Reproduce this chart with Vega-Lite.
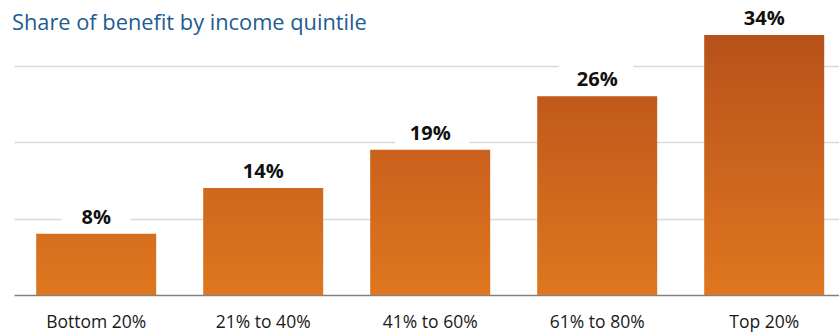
{
  "$schema": "https://vega.github.io/schema/vega-lite/v6.json",
  "autosize": {"type": "none"},
  "width": 825,
  "height": 260,
  "padding": {"left": 14, "top": 35, "right": 0, "bottom": 38},
  "background": "white",
  "title": {
    "text": "Share of benefit by income quintile",
    "anchor": "start",
    "frame": "group",
    "font": "Open Sans",
    "fontSize": 21.8,
    "fontWeight": "normal",
    "color": "#1D5C92",
    "baseline": "alphabetic",
    "offset": -43,
    "dx": -2
  },
  "data": {
    "values": [
      {"quintile": "Bottom 20%", "share": 0.08},
      {"quintile": "21% to 40%", "share": 0.14},
      {"quintile": "41% to 60%", "share": 0.19},
      {"quintile": "61% to 80%", "share": 0.26},
      {"quintile": "Top 20%", "share": 0.34}
    ]
  },
  "encoding": {
    "x": {
      "field": "quintile",
      "type": "nominal",
      "sort": null,
      "scale": {"paddingInner": 0.2814, "paddingOuter": 0.1107, "align": 0.6},
      "axis": {
        "title": null,
        "labelAngle": 0,
        "labelFont": "Open Sans",
        "labelFontSize": 17.5,
        "labelColor": "#1a1a1a",
        "labelBaseline": "alphabetic",
        "labelPadding": 32,
        "ticks": false,
        "tickSize": 0,
        "domainColor": "#808080",
        "domainWidth": 1.5,
        "grid": false
      }
    },
    "y": {
      "field": "share",
      "type": "quantitative",
      "scale": {"domain": [0, 0.34], "nice": false, "zero": true},
      "axis": {
        "title": null,
        "labels": false,
        "ticks": false,
        "domain": false,
        "values": [0.1, 0.2, 0.3],
        "grid": true,
        "gridColor": "#D9D9D9",
        "gridWidth": 1.5
      }
    }
  },
  "layer": [
    {
      "transform": [{"filter": "datum.share < 0.3"}],
      "mark": {
        "type": "text",
        "font": "Open Sans",
        "fontSize": 20,
        "fontWeight": "bold",
        "baseline": "alphabetic",
        "dy": -10,
        "fill": "white",
        "stroke": "white",
        "strokeWidth": 40,
        "strokeJoin": "round"
      },
      "encoding": {"text": {"field": "share", "type": "quantitative", "format": ".0%"}}
    },
    {
      "mark": {"type": "bar"},
      "encoding": {
        "fill": {
          "condition": [
            {"test": "datum.quintile === 'Bottom 20%'", "value": {"gradient": "linear", "x1": 0, "y1": 1, "x2": 0, "y2": 0, "stops": [{"offset": 0, "color": "#DE771F"}, {"offset": 1, "color": "#D66E1E"}]}},
            {"test": "datum.quintile === '21% to 40%'", "value": {"gradient": "linear", "x1": 0, "y1": 1, "x2": 0, "y2": 0, "stops": [{"offset": 0, "color": "#DE771F"}, {"offset": 1, "color": "#CF671D"}]}},
            {"test": "datum.quintile === '41% to 60%'", "value": {"gradient": "linear", "x1": 0, "y1": 1, "x2": 0, "y2": 0, "stops": [{"offset": 0, "color": "#DE771F"}, {"offset": 1, "color": "#C9611C"}]}},
            {"test": "datum.quintile === '61% to 80%'", "value": {"gradient": "linear", "x1": 0, "y1": 1, "x2": 0, "y2": 0, "stops": [{"offset": 0, "color": "#DE771F"}, {"offset": 1, "color": "#C1591B"}]}}
          ],
          "value": {"gradient": "linear", "x1": 0, "y1": 1, "x2": 0, "y2": 0, "stops": [{"offset": 0, "color": "#DE771F"}, {"offset": 1, "color": "#B8511A"}]}
        }
      }
    },
    {
      "mark": {
        "type": "text",
        "font": "Open Sans",
        "fontSize": 20,
        "fontWeight": "bold",
        "baseline": "alphabetic",
        "dy": -10,
        "color": "#111111"
      },
      "encoding": {"text": {"field": "share", "type": "quantitative", "format": ".0%"}}
    }
  ],
  "config": {"view": {"stroke": null}}
}
